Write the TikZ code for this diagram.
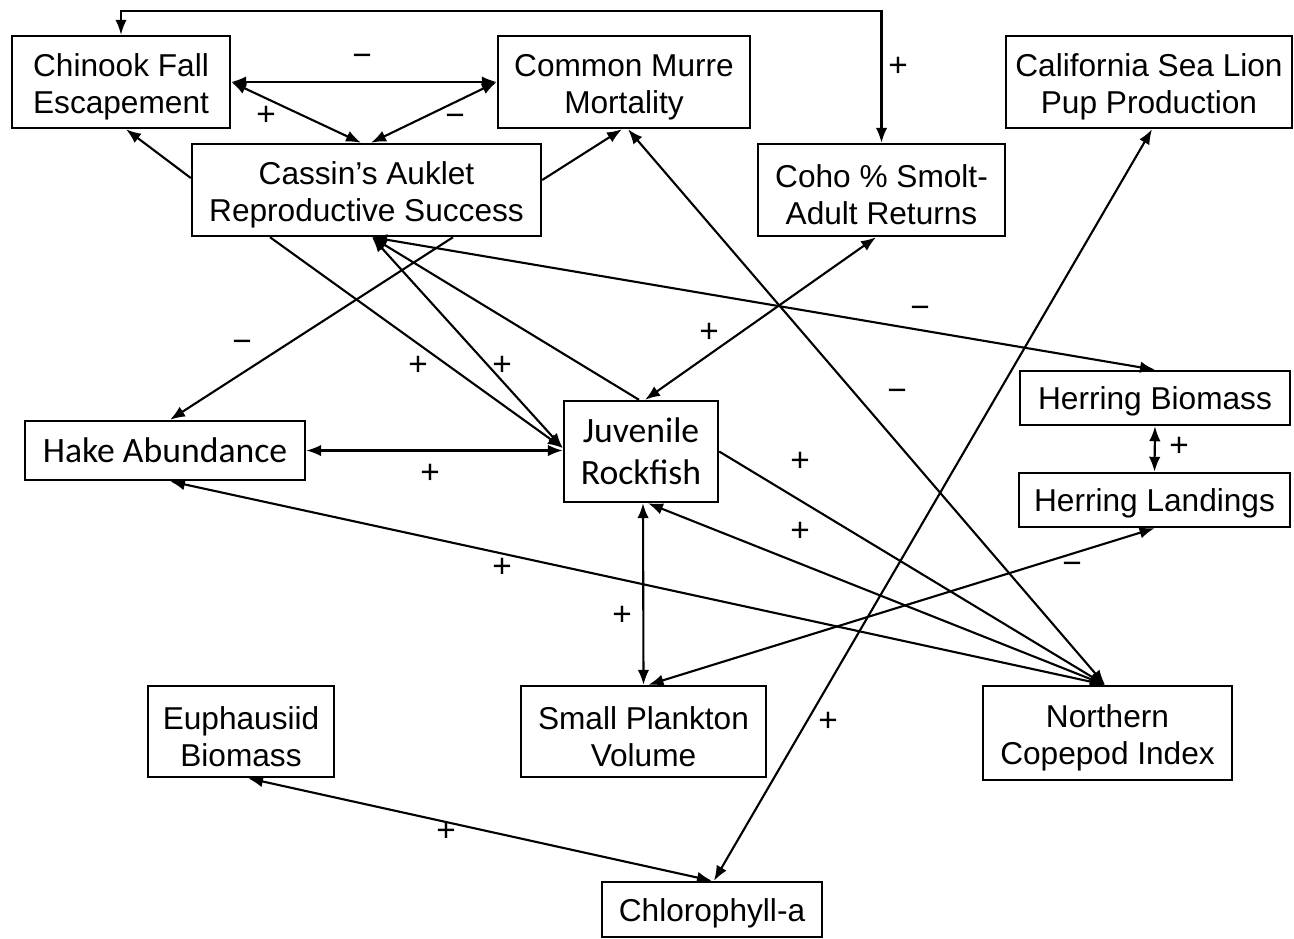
\documentclass[tikz,border=0pt]{standalone}
\usepackage{fontspec}
\setmainfont{Liberation Sans}
\newfontfamily\calfont{Carlito}
\usepackage{tikz}
\usetikzlibrary{arrows.meta,calc}

\tikzset{
  frame/.style={draw, line width=1.4pt, align=center, inner sep=0pt},
  box/.style={frame, text height=17pt, font=\fontsize{18}{21}\selectfont},
  tallbox/.style={frame, text height=39.5pt, font=\fontsize{18}{21}\selectfont},
  calbox/.style={frame, font=\calfont\fontsize{20.3}{24}\selectfont},
  sign/.style={inner sep=0pt, font=\fontsize{19}{21}\selectfont},
  link/.style={line width=1.2pt}
}

\begin{document}
\begin{tikzpicture}[x=0.02cm, y=-0.02cm, >={Latex[length=3mm,width=2.3mm]}]
      \useasboundingbox (0,0) rectangle (1294,938);
      \node[tallbox, minimum width=4.36cm, minimum height=1.84cm] (chin) at (121,82) {Chinook Fall\\Escapement};
      \node[tallbox, minimum width=5.04cm, minimum height=1.84cm] (murre) at (624,82) {Common Murre\\Mortality};
      \node[tallbox, minimum width=5.72cm, minimum height=1.84cm] (csl) at (1149,82) {California Sea Lion\\Pup Production};
      \node[tallbox, minimum width=6.98cm, minimum height=1.84cm] (cass) at (366.5,190) {Cassin’s Auklet\\Reproductive Success};
      \node[tallbox, minimum width=4.94cm, minimum height=1.84cm] (coho) at (881.5,190) {Coho \% Smolt-\\Adult Returns};
      \node[calbox, minimum width=5.6cm, minimum height=1.18cm] (hake) at (165,450.5) {Hake Abundance};
      \node[calbox, minimum width=3.08cm, minimum height=2.02cm] (juv) at (641,451.5) {Juvenile\\Rockfish};
      \node[box, minimum width=5.4cm, minimum height=1.08cm] (hbio) at (1155,398) {Herring Biomass};
      \node[box, minimum width=5.42cm, minimum height=1.08cm] (hland) at (1154.5,500) {Herring Landings};
      \node[tallbox, minimum width=3.72cm, minimum height=1.82cm] (euph) at (241,731.5) {Euphausiid\\Biomass};
      \node[tallbox, minimum width=4.9cm, minimum height=1.82cm] (plank) at (643.5,731.5) {Small Plankton\\Volume};
      \node[tallbox, minimum width=4.98cm, minimum height=1.88cm] (cope) at (1107.5,733) {Northern\\Copepod Index};
      \node[box, minimum width=4.4cm, minimum height=1.1cm] (chl) at (712,909.5) {Chlorophyll-a};

      \coordinate (cassb) at ([xshift=0.11cm]cass.south);
      \coordinate (copet) at ([xshift=-0.05cm]cope.north);

      \draw[link,<->] (chin.north) -- ++(0,-24) -| (coho.north);
      \draw[link,<->] (chin.east) -- (murre.west);
      \draw[link,<->] (chin.east) -- ([xshift=-0.11cm]cass.north);
      \draw[link,<->] (murre.west) -- ([xshift=0.09cm]cass.north);
      \draw[link,->] ([yshift=0.24cm]cass.west) -- ([xshift=0.1cm]chin.south);
      \draw[link,->] ([yshift=0.2cm]cass.east) -- ([xshift=-0.04cm]murre.south);
      \draw[link,->] ([xshift=-1.93cm]cass.south) -- ([yshift=0.07cm]juv.west);
      \draw[link,->] ([xshift=1.73cm]cass.south) -- ([xshift=0.1cm]hake.north);
      \draw[link,<->] (cassb) -- ([yshift=0.07cm]juv.west);
      \draw[link,->] ([xshift=-0.04cm]juv.north) -- (cassb);
      \draw[link,<->] (cassb) -- (hbio.north);
      \draw[link,<->] ([xshift=-0.11cm]coho.south) -- ([xshift=0.08cm]juv.north);
      \draw[link,<->] ([xshift=0.08cm]murre.south) -- (copet);
      \draw[link,<->] ([xshift=0.06cm]csl.south) -- ([xshift=0.04cm]chl.north);
      \draw[link,<->] (hbio.south) -- (hland.north);
      \draw[link,<->] (hake.east) -- (hake.east -| juv.west);
      \draw[link,<->] ([xshift=0.1cm]hake.south) -- (copet);
      \draw[link,->] (juv.east) -- (copet);
      \draw[link,<->] ([xshift=0.14cm]juv.south) -- (copet);
      \draw[link,<->] ([xshift=0.04cm]juv.south) -- (plank.north);
      \draw[link,<->] ([xshift=0.1cm]plank.north) -- (hland.south);
      \draw[link,<->] ([xshift=0.14cm]euph.south) -- (chl.north);

      \node[sign] (s1) at (898,67) {+};
      \node[sign] (s2) at (362,60) {−};
      \node[sign] (s3) at (266,116) {+};
      \node[sign] (s4) at (455,120) {−};
      \node[sign] (s5) at (418,366) {+};
      \node[sign] (s6) at (242,346) {−};
      \node[sign] (s7) at (502,366) {+};
      \node[sign] (s8) at (920,312) {−};
      \node[sign] (s9) at (709,333) {+};
      \node[sign] (s10) at (897,395) {−};
      \node[sign] (s11) at (828,722) {+};
      \node[sign] (s12) at (1179,447) {+};
      \node[sign] (s13) at (430,474) {+};
      \node[sign] (s14) at (502,568) {+};
      \node[sign] (s15) at (800,462) {+};
      \node[sign] (s16) at (800,532) {+};
      \node[sign] (s17) at (622,616) {+};
      \node[sign] (s18) at (1072,568) {−};
      \node[sign] (s19) at (446,832) {+};
    \end{tikzpicture}
\end{document}
